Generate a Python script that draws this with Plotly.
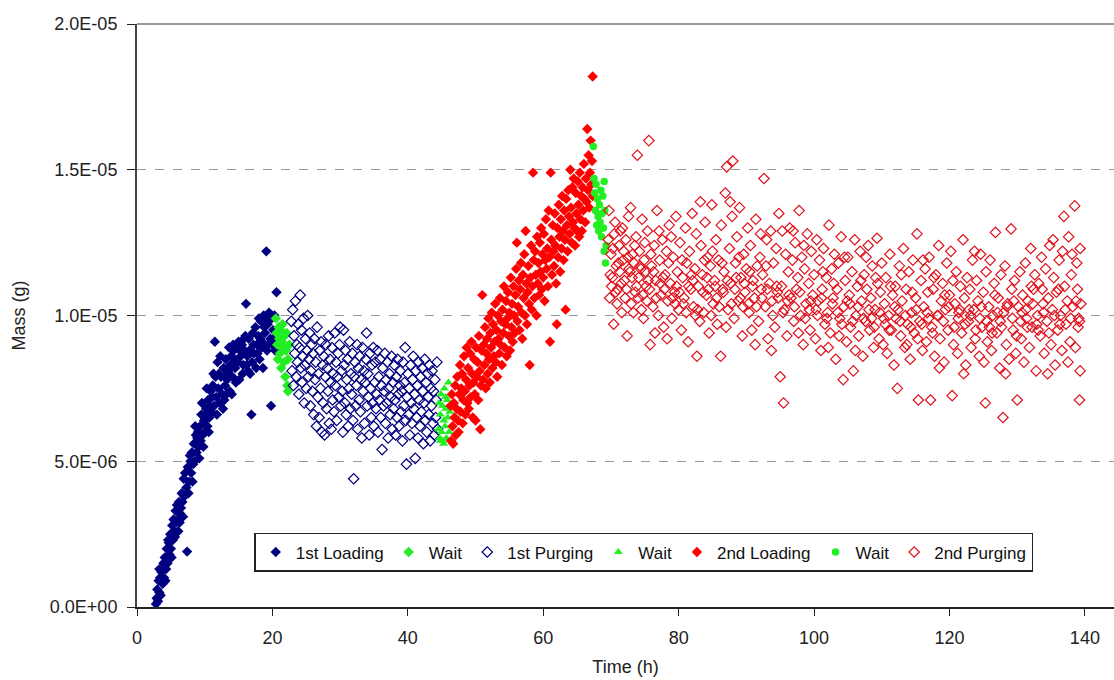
import plotly.graph_objects as go

# ---- data (time in h, mass in 1e-6 g) ----
loading1 = [(2.8,0.1),(2.9,0.3),(3.0,0.6),(3.1,0.2),(3.2,0.9),(3.3,0.5),(3.4,1.0),(3.5,0.4),(3.6,1.2),(3.8,0.8),(3.9,1.5),(4.0,1.0),(4.1,1.7),(4.3,1.3),(4.4,2.0),(4.5,1.5),(4.6,2.3),(4.8,1.8),(4.9,2.5),(5.0,2.0),(5.2,2.8),(5.3,2.3),(5.4,3.0),(5.5,2.6),(5.7,3.3),(5.8,2.9),(5.9,3.5),(6.0,3.0),(6.2,3.6),(6.3,2.9),(6.4,3.2),(6.6,3.9),(6.7,3.6),(6.9,4.4),(7.0,3.8),(7.1,4.6),(7.3,4.1),(7.4,1.9),(7.5,4.8),(7.7,4.3),(7.8,5.2),(8.0,4.6),(8.1,5.3),(8.3,4.9),(8.4,5.6),(8.5,5.0),(8.7,5.9),(8.8,5.3),(9.0,6.0),(9.1,5.5),(9.3,6.2),(9.4,5.7),(9.6,7.0),(9.7,5.9),(9.9,6.4),(10.0,6.0),(10.2,6.8),(10.4,6.2),(10.5,7.1),(10.7,6.5),(10.9,7.4),(11.0,6.7),(11.2,7.6),(11.4,6.9),(11.5,9.1),(11.7,7.2),(11.9,8.4),(12.0,7.5),(12.2,7.0),(12.4,7.9),(12.6,7.3),(12.8,8.2),(13.0,7.6),(13.1,8.5),(13.3,7.8),(13.5,8.1),(13.7,7.4),(13.9,8.6),(14.1,7.9),(14.3,8.8),(14.5,8.2),(14.7,8.9),(14.9,8.4),(15.1,7.8),(15.3,8.6),(15.5,9.0),(15.7,8.3),(15.9,8.8),(16.1,10.4),(16.3,8.6),(16.5,9.2),(16.7,8.0),(16.9,6.6),(17.1,9.4),(17.3,8.7),(17.5,9.6),(17.7,9.0),(17.9,9.3),(18.1,8.5),(18.3,9.8),(18.5,9.1),(18.7,10.0),(18.9,9.4),(19.1,12.2),(19.3,9.7),(19.5,10.1),(19.7,9.2),(19.8,6.9),(19.9,9.9),(20.1,9.5),(20.3,10.0),(20.6,10.8),(20.4,8.8),
            (12.1,8.0),(12.9,7.1),(13.6,8.9),(14.0,7.3),(14.4,8.5),(15.0,9.1),(15.6,8.0),(16.0,9.3),(16.4,8.1),(17.0,8.4),(17.6,8.2),(18.0,9.9),(18.4,8.9),(18.8,9.6),(19.2,8.8),(19.6,10.0),(20.0,9.0),(10.1,6.6),(10.6,6.0),(11.1,7.2),(8.9,5.8),(7.9,5.0),(6.5,3.4),(5.6,2.4),(4.7,2.2),(3.7,0.9),(9.5,6.6),(11.3,8.0),(11.8,6.6),(13.4,8.0),
            (3.3,1.3),(4.2,0.9),(5.1,1.7),(6.1,2.6),(6.8,3.1),(7.6,3.9),(8.2,4.3),(8.6,6.2),(9.2,5.1),(9.8,5.5),(10.3,7.5),(10.8,6.9),(11.6,7.9),(12.3,8.6),(12.7,6.8),(13.2,7.3),(13.8,8.3),(14.2,9.0),(14.6,7.7),(15.2,8.8),(15.8,9.2),(16.2,8.3),(16.6,8.8),(17.2,9.0),(17.8,8.7),(18.2,9.2),(18.6,8.2),(19.0,9.9),(19.4,9.0),(20.2,9.2)]

wait1 = [(20.5,9.9),(20.6,9.4),(20.7,9.0),(20.8,8.5),(20.9,9.6),(21.0,9.2),(21.1,8.7),(21.2,9.5),(21.3,8.2),(21.4,9.1),(21.5,9.7),(21.6,8.9),(21.7,8.4),(21.8,9.3),(21.9,7.9),(22.0,8.8),(22.1,9.4),(22.2,7.6),(22.3,8.5),(22.5,9.0),(22.3,7.4)]

purging1 = [(22.8,9.8),(22.9,8.1),(23.0,10.2),(23.1,7.6),(23.2,9.3),(23.3,8.7),(23.4,10.5),(23.5,7.9),(23.6,9.0),(23.7,8.4),(23.8,9.7),(23.9,7.3),(24.0,8.9),(24.1,10.7),(24.2,8.2),(24.3,9.5),(24.4,7.7),(24.5,8.6),(24.6,9.9),(24.7,7.0),(24.8,8.3),(24.9,9.2),(25.0,7.5),(25.1,8.8),(25.2,10.0),(25.3,7.9),(25.4,8.5),(25.5,9.4),(25.6,6.9),(25.7,8.1),(25.8,9.0),(25.9,7.4),(26.0,8.7),
            (26.1,6.6),(26.2,9.2),(26.3,7.8),(26.4,8.4),(26.5,6.2),(26.6,9.6),(26.7,7.2),(26.8,8.0),(26.9,6.5),(27.0,8.8),(27.1,7.5),(27.2,9.1),(27.3,6.0),(27.4,8.3),(27.5,7.0),(27.6,8.6),(27.7,5.9),(27.8,7.9),(27.9,9.0),(28.0,6.8),(28.1,8.2),(28.2,7.4),(28.3,9.3),(28.4,6.3),(28.5,8.5),(28.6,7.7),(28.7,6.1),(28.8,8.9),(28.9,7.1),(29.0,8.0),(29.1,6.7),(29.2,9.4),(29.3,7.6),(29.4,8.4),(29.5,6.4),(29.6,7.9),(29.7,8.7),(29.8,7.2),(29.9,9.0),(30.0,9.6),(30.1,6.9),(30.2,8.1),(30.3,7.4),(30.5,9.5),(30.4,6.0),
            (30.6,8.3),(30.7,7.0),(30.8,8.8),(30.9,6.6),(31.0,7.8),(31.1,8.5),(31.2,6.2),(31.3,7.5),(31.4,9.1),(31.5,6.8),(31.6,8.0),(31.7,7.3),(31.8,8.7),(31.9,6.4),(32.0,4.4),(32.1,7.9),(32.2,8.4),(32.3,6.9),(32.4,7.6),(32.5,9.0),(32.6,6.1),(32.7,8.2),(32.8,7.1),(32.9,8.6),(33.0,6.7),(33.1,7.8),(33.2,5.8),(33.3,8.9),(33.4,7.4),(33.5,8.1),(33.6,6.3),(33.7,7.7),(33.8,8.5),(33.9,9.4),(34.0,6.9),(34.1,8.0),(34.2,7.2),(34.3,5.9),(34.4,8.7),(34.5,7.5),(34.6,6.5),(34.7,8.3),(34.8,7.0),(34.9,8.9),
            (35.0,6.2),(35.1,7.7),(35.2,8.4),(35.3,6.8),(35.4,7.3),(35.5,8.8),(35.6,6.0),(35.7,7.9),(35.8,7.1),(35.9,8.5),(36.0,6.5),(36.1,7.6),(36.2,5.4),(36.3,8.2),(36.4,6.9),(36.5,7.4),(36.6,8.7),(36.7,6.3),(36.8,7.8),(36.9,7.0),(37.0,8.4),(37.1,5.8),(37.2,7.5),(37.3,8.0),(37.4,6.6),(37.5,7.2),(37.6,8.6),(37.7,6.1),(37.8,7.7),(37.9,6.8),(38.0,8.3),(38.1,7.1),(38.2,5.9),(38.3,7.9),(38.4,6.5),(38.5,8.5),(38.6,7.3),(38.7,6.2),(38.8,7.6),(38.9,8.1),(39.0,6.7),(39.1,7.4),(39.2,5.7),(39.3,8.4),(39.4,6.9),(39.5,7.7),(39.6,8.9),(39.7,6.4),(39.8,4.9),(39.9,7.2),
            (40.0,8.0),(40.1,6.6),(40.2,7.5),(40.3,5.9),(40.4,8.3),(40.5,7.0),(40.6,6.3),(40.7,7.8),(40.8,8.6),(40.9,6.8),(41.0,7.3),(41.1,5.1),(41.2,8.1),(41.3,6.5),(41.4,7.6),(41.5,5.8),(41.6,8.4),(41.7,7.1),(41.8,6.2),(41.9,7.9),(42.0,6.7),(42.1,8.2),(42.2,7.4),(42.3,5.6),(42.4,7.0),(42.5,8.5),(42.6,6.4),(42.7,7.7),(42.8,6.0),(42.9,8.0),(43.0,7.2),(43.1,6.6),(43.2,8.3),(43.3,5.7),(43.4,7.5),(43.5,6.9),(43.6,8.1),(43.7,6.3),(43.8,7.4),(43.9,5.9),(44.0,7.8),(44.1,6.5),(44.2,7.1),(44.3,8.4),(44.4,6.1)]

wait2 = [(44.5,6.1),(44.6,7.0),(44.7,5.8),(44.8,6.6),(44.9,7.3),(45.0,6.0),(45.1,6.9),(45.2,5.7),(45.3,6.4),(45.4,7.5),(45.5,6.2),(45.6,6.8),(45.7,5.8),(45.8,7.1),(45.9,6.5),(46.0,7.7),(46.1,6.0),(46.2,6.7),(45.3,5.6),(44.8,5.7),(45.6,7.2)]

loading2 = [(46.3,6.9),(46.4,5.7),(46.5,7.3),(46.6,6.2),(46.7,5.6),(46.8,7.0),(46.9,6.5),(47.0,7.6),(47.1,5.9),(47.2,6.8),(47.3,7.9),(47.4,6.4),(47.5,6.0),(47.6,7.3),(47.7,8.3),(47.8,6.7),(47.9,7.5),(48.0,8.0),(48.1,6.3),(48.2,7.1),(48.3,8.6),(48.4,7.4),(48.5,6.6),(48.6,7.8),(48.7,8.9),(48.8,7.0),(48.9,8.2),(49.0,6.8),(49.1,7.6),(49.2,8.7),(49.3,7.2),(49.4,9.1),(49.5,8.0),(49.6,6.5),(49.7,7.7),(49.8,8.5),(49.9,7.3),(50.0,6.4),(50.1,8.9),(50.2,7.9),(50.3,8.4),(50.4,7.1),(50.5,9.3),(50.6,8.1),(50.7,6.1),(50.8,7.6),(50.9,8.8),(51.0,10.7),(51.1,7.8),(51.2,9.0),(51.3,8.3),(51.4,9.6),(51.5,7.5),(51.6,8.7),(51.7,9.2),(51.8,8.0),(51.9,9.9),(52.0,8.5),(52.1,7.7),(52.2,9.4),(52.3,8.9),(52.4,10.1),(52.5,8.2),(52.6,9.7),(52.7,8.6),(52.8,9.1),(52.9,10.4),(53.0,8.4),(53.1,9.5),(53.2,7.9),(53.3,10.0),(53.4,9.2),(53.5,8.7),(53.6,10.6),(53.7,9.0),(53.8,9.8),(53.9,8.3),(54.0,10.2),(54.1,9.4),(54.2,11.0),(54.3,8.9),(54.4,9.7),(54.5,10.5),(54.6,8.6),(54.7,9.9),(54.8,10.8),(54.9,9.3),(55.0,10.1),(55.1,8.8),(55.2,11.3),(55.3,9.6),(55.4,10.4),(55.5,9.1),(55.6,11.0),(55.7,10.0),(55.8,9.4),(55.9,10.7),(56.0,11.6),(56.1,12.5),(56.2,9.8),(56.3,10.3),(56.4,11.2),(56.5,9.5),(56.6,10.9),(56.7,11.8),(56.8,10.1),(56.9,9.2),(57.0,11.4),(57.1,10.6),(57.2,12.1),(57.3,10.0),(57.4,12.9),(57.5,11.1),(57.6,9.7),(57.7,10.8),(57.8,11.7),(57.9,10.4),(58.0,8.3),(58.1,11.3),(58.2,12.4),(58.3,10.2),(58.4,11.0),(58.5,14.9),(58.6,11.9),(58.7,10.6),(58.8,12.2),(58.9,11.4),(59.0,10.0),(59.1,12.7),(59.2,11.1),(59.3,11.8),(59.4,10.7),(59.5,12.5),(59.6,11.5),(59.7,13.0),(59.8,10.9),(59.9,12.1),(60.0,11.3),(60.1,12.8),(60.2,10.5),(60.3,11.9),(60.4,13.3),(60.5,11.6),(60.6,12.3),(60.7,11.0),(60.8,13.6),(60.9,12.0),(61.0,9.1),(61.1,14.9),(61.2,12.6),(61.3,11.4),(61.4,13.1),(61.5,12.2),(61.6,11.7),(61.7,13.5),(61.8,12.4),(61.9,11.1),(62.0,9.7),(62.1,13.0),(62.2,12.0),(62.3,13.8),(62.4,12.7),(62.5,11.5),(62.6,13.3),(62.7,12.3),(62.8,14.1),(62.9,12.9),(63.0,11.9),(63.1,13.6),(63.2,12.6),(63.3,10.2),(63.4,14.0),(63.5,13.1),(63.6,12.2),(63.7,14.3),(63.8,13.4),(63.9,12.8),(64.0,15.0),(64.1,13.7),(64.2,12.5),(64.3,14.4),(64.4,13.2),(64.5,14.7),(64.6,13.0),(64.7,12.4),(64.8,14.2),(64.9,13.5),(65.0,12.9),(65.1,14.6),(65.2,13.8),(65.3,12.7),(65.4,14.9),(65.5,13.3),(65.6,14.1),(65.7,12.9),(65.8,14.4),(65.9,13.6),(66.0,15.2),(66.1,14.0),(66.2,13.2),(66.3,14.7),(66.4,13.9),(66.5,16.4),(66.6,14.3),(66.7,15.5),(66.8,13.7),(66.9,14.9),(67.0,16.0),(67.1,14.5),(67.2,15.3),(67.3,18.2),(67.3,14.1)]

wait3 = [(67.4,15.8),(67.5,14.7),(67.6,14.2),(67.7,13.6),(67.8,14.5),(67.9,13.1),(68.0,14.0),(68.1,13.4),(68.2,12.9),(68.3,13.8),(68.4,13.2),(68.5,14.3),(68.6,12.7),(68.7,13.5),(68.8,14.1),(68.9,13.0),(69.0,12.2),(69.1,13.6),(69.2,11.8),(69.3,12.4),(69.0,14.6)]

purging2 = [(69.6,12.6),(69.8,10.6),(70.0,12.1),(70.2,11.3),(70.4,9.7),(70.6,13.2),(70.8,11.7),(71.0,10.9),(71.2,12.4),(71.4,12.9),(71.6,10.1),(71.8,11.9),(72.0,11.2),(72.2,12.6),(72.4,9.3),(72.6,13.4),(72.8,11.5),(73.0,10.4),(73.2,12.1),(73.4,11.8),(73.6,10.8),(73.9,15.5),(74.0,10.6),(74.2,12.2),(74.4,11.6),(74.6,13.3),(74.8,9.9),(75.0,12.5),
            (69.7,13.6),(70.1,11.0),(70.5,12.8),(70.9,10.4),(71.3,11.5),(71.7,13.0),(72.1,10.6),(72.5,12.0),(72.9,13.7),(73.3,10.1),(73.7,12.7),(74.1,11.3),(74.5,10.2),(74.9,11.9),
            (75.2,11.0),(75.4,12.9),(75.6,16.0),(75.8,9.0),(76.0,11.7),(76.2,10.3),(76.4,12.4),(76.6,11.2),(76.8,13.6),(77.0,10.0),(77.2,11.9),(77.4,10.7),(77.6,12.6),(77.8,9.6),(78.0,11.4),(78.2,12.2),(78.4,10.5),(78.6,13.1),(78.8,11.1),(79.0,9.9),(79.2,12.0),(79.4,10.8),(79.6,13.4),(79.8,11.5),(80.0,10.2),
            (75.3,10.5),(75.9,12.1),(76.5,9.4),(77.1,12.9),(77.7,11.3),(78.3,9.2),(78.9,12.7),(79.5,10.4),
            (80.2,12.5),(80.4,9.5),(80.6,11.3),(80.8,10.6),(81.0,13.0),(81.2,11.8),(81.4,9.1),(81.6,12.2),(81.8,10.9),(82.0,13.5),(82.2,10.3),(82.4,11.6),(82.6,12.8),(82.7,8.6),(82.9,11.0),(83.1,9.8),(83.3,12.4),(83.5,11.4),(83.7,10.1),(83.9,13.2),(84.1,10.7),(84.3,12.0),(84.5,9.4),(84.7,11.7),(84.9,13.8),(85.1,10.4),(85.3,11.2),(85.5,12.6),(85.7,9.7),(85.9,11.9),(86.2,8.6),(86.3,13.1),(86.5,10.9),(86.7,11.5),(86.9,14.2),(87.1,15.1),(87.3,10.2),(87.5,12.3),(87.7,11.1),(87.9,13.4),(88.0,15.3),(88.2,9.9),(88.4,11.8),(88.6,12.7),(88.8,10.5),(89.0,13.7),(89.2,11.3),(89.4,9.3),(89.6,12.1),(89.8,10.8),(90.0,11.6),
            (80.5,11.9),(81.1,10.1),(81.9,11.4),(82.5,10.0),(83.2,13.9),(83.8,11.9),(84.4,10.9),(85.0,12.2),(85.6,10.6),(86.4,11.8),(87.0,9.6),(87.6,13.9),(88.3,10.9),(88.9,12.0),(89.5,10.3),
            (90.2,13.0),(90.4,10.1),(90.6,12.4),(90.8,9.5),(91.0,11.2),(91.2,10.6),(91.4,13.3),(91.6,11.7),(91.8,9.8),(92.0,12.0),(92.2,10.9),(92.4,11.4),(92.6,14.7),(92.8,10.3),(93.0,12.6),(93.2,9.2),(93.4,11.1),(93.6,12.9),(93.8,10.5),(94.0,11.8),(94.2,9.6),(94.4,12.3),(94.6,10.8),(94.8,13.5),(95.0,7.9),(95.2,11.0),(95.5,7.0),(95.6,10.2),(95.8,12.1),(96.0,9.3),(96.2,11.5),(96.4,13.0),(96.6,10.6),(96.8,11.9),(97.0,9.8),(97.2,12.5),(97.4,10.9),(97.6,11.3),(97.8,13.6),(98.0,10.0),(98.2,12.0),(98.4,9.0),(98.6,11.6),(98.8,10.4),(99.0,12.8),(99.2,11.1),(99.4,9.5),(99.6,12.2),(99.8,10.7),(100.0,11.4),
            (90.5,11.5),(91.3,9.0),(92.1,12.8),(92.9,11.7),(93.7,8.8),(94.5,11.0),(95.3,12.9),(96.1,10.5),(96.9,12.9),(97.7,9.4),(98.5,12.4),(99.3,10.2),
            (100.2,9.2),(100.4,12.6),(100.6,10.5),(100.8,11.9),(101.0,8.8),(101.2,10.9),(101.4,12.3),(101.6,9.7),(101.8,11.3),(102.0,10.1),(102.2,13.1),(102.4,9.4),(102.6,11.6),(102.8,10.6),(103.0,12.1),(103.2,8.5),(103.4,10.9),(103.6,11.8),(103.8,9.9),(104.0,12.7),(104.3,7.8),(104.4,10.3),(104.6,11.2),(104.8,9.1),(105.0,12.0),(105.2,10.7),(105.4,9.6),(105.6,11.5),(105.8,8.1),(106.0,12.6),(106.2,10.0),(106.4,11.0),(106.6,9.3),(106.8,12.2),(107.0,10.5),(107.2,8.6),(107.4,11.4),(107.6,9.8),(107.8,10.9),(108.0,12.4),(108.2,9.5),(108.4,10.6),(108.6,11.7),(108.8,8.9),(109.0,10.2),(109.3,12.65),(109.4,11.1),(109.6,9.2),(109.8,10.8),(110.0,11.8),
            (100.5,10.0),(101.3,11.5),(102.1,8.9),(102.9,11.1),(103.7,9.3),(104.5,12.0),(105.3,10.4),(106.1,8.8),(106.9,11.2),(107.7,12.0),(108.5,9.9),(109.1,11.3),
            (110.2,9.0),(110.4,10.4),(110.6,11.3),(110.8,8.7),(111.0,10.0),(111.2,12.1),(111.4,9.5),(111.6,10.7),(111.8,8.3),(112.0,11.0),(112.3,7.5),(112.4,10.2),(112.6,11.7),(112.8,9.3),(113.0,10.5),(113.2,12.3),(113.4,8.9),(113.6,10.9),(113.8,9.7),(114.0,11.5),(114.2,8.5),(114.4,10.1),(114.6,11.9),(114.8,9.4),(115.0,10.6),(115.2,12.8),(115.4,7.1),(115.6,9.8),(115.8,11.2),(116.0,8.8),(116.2,10.3),(116.4,11.6),(116.6,9.1),(116.8,10.8),(117.0,12.0),(117.2,7.1),(117.4,9.6),(117.6,10.9),(117.8,8.6),(118.0,11.4),(118.2,10.0),(118.4,12.4),(118.6,9.2),(118.8,10.5),(119.0,11.1),(119.2,8.4),(119.4,10.2),(119.6,11.8),(119.8,9.5),(120.0,10.7),
            (110.5,9.7),(111.3,11.0),(112.1,9.9),(112.9,11.4),(113.7,9.0),(114.5,10.8),(115.3,9.2),(116.1,11.9),(116.9,9.9),(117.7,11.3),(118.5,8.2),(119.3,10.7),
            (120.2,12.2),(120.4,7.25),(120.6,9.0),(120.8,10.4),(121.0,11.5),(121.2,8.7),(121.4,10.1),(121.6,11.0),(121.8,9.4),(122.0,12.6),(122.2,10.6),(122.4,8.3),(122.6,11.3),(122.8,9.8),(123.0,10.9),(123.2,8.9),(123.4,11.9),(123.6,10.2),(123.8,9.2),(124.0,11.2),(124.2,10.5),(124.4,8.6),(124.6,12.1),(124.8,9.6),(125.0,10.8),(125.3,7.0),(125.4,11.5),(125.6,9.1),(125.8,10.3),(126.0,11.9),(126.2,8.8),(126.4,10.0),(126.6,11.1),(126.8,12.85),(127.0,9.4),(127.2,10.6),(127.4,8.2),(127.6,11.4),(127.9,6.5),(128.0,10.1),(128.2,11.7),(128.4,9.0),(128.6,10.4),(128.8,8.5),(129.1,12.97),(129.2,10.9),(129.4,9.5),(129.6,11.2),(129.8,8.7),(130.0,7.1),
            (120.5,11.2),(121.3,9.9),(122.1,8.0),(122.9,10.2),(123.7,12.2),(124.5,9.9),(125.1,8.4),(125.9,9.6),(126.7,10.7),(127.5,9.8),(128.3,8.0),(129.5,10.5),
            (130.2,10.3),(130.4,11.5),(130.6,9.2),(130.8,10.7),(131.0,8.4),(131.2,11.8),(131.4,9.9),(131.6,10.5),(131.8,8.9),(132.0,12.3),(132.2,9.6),(132.4,10.9),(132.6,11.4),(132.8,8.1),(133.0,10.0),(133.2,11.1),(133.4,9.3),(133.6,12.0),(133.8,10.4),(134.0,8.7),(134.2,11.6),(134.4,9.8),(134.6,10.6),(134.8,12.4),(135.0,9.0),(135.2,10.2),(135.4,11.3),(135.6,8.3),(135.8,10.8),(136.0,9.5),(136.2,11.9),(136.4,10.0),(136.6,8.8),(136.9,13.4),(137.0,11.0),(137.2,9.7),(137.4,10.5),(137.6,12.7),(137.8,9.1),(138.0,11.4),(138.2,10.3),(138.5,13.76),(138.6,8.9),(138.8,11.8),(139.0,9.6),(139.2,7.1),(139.3,8.1),(139.4,10.4),(139.3,12.3),(139.1,9.9),
            (130.5,9.8),(131.3,10.2),(132.1,11.0),(132.9,9.7),(133.7,10.9),(134.5,8.0),(135.3,12.6),(136.1,10.9),(136.7,12.2),(137.5,8.4),(138.1,12.1),(138.9,10.9),
            (69.9,11.4),(70.3,12.3),(70.7,10.8),(71.1,11.8),(71.5,11.1),(71.9,12.2),(72.3,10.9),(72.7,11.6),(73.1,11.3),(73.5,12.4),(73.8,11.0),(74.3,11.7),(74.7,10.7),(75.1,11.5),(75.5,11.2),(75.7,10.9),(76.3,11.5),(76.7,10.6),(77.3,11.1),(77.9,10.9),(78.5,11.8),(79.1,10.6),(79.7,11.0),(80.1,10.8),(80.7,10.4),(81.5,11.0),(82.1,11.2),(82.8,10.2),(83.6,10.8),(84.2,11.3),(84.8,10.0),(85.4,11.0),(86.0,10.3),(86.6,10.8),(87.2,11.2),(87.8,10.4),(88.5,11.3),(89.1,10.6),(89.7,11.1),(90.3,10.4),(90.9,11.0),(91.5,10.3),(92.3,10.6),(93.1,10.9),(93.9,10.0),(94.7,10.6),(95.4,10.1),(96.3,10.7),(97.1,10.3),(97.9,10.8),(98.7,9.9),(99.5,10.5),(100.3,10.2),(101.1,10.6),(101.9,9.9),(102.7,10.4),(103.5,10.1),(104.1,9.7),(104.9,10.5),(105.7,9.8),(106.5,10.3),(107.3,9.9),(108.1,10.2),(108.9,9.6),(109.7,10.1),(110.3,9.9),(111.1,9.5),(111.9,10.3),(112.7,9.8),(113.5,10.0),(114.3,9.6),(115.1,10.2),(115.9,9.7),(116.7,10.1),(117.5,9.4),(118.3,10.0),(119.1,9.8),(119.9,10.3),(120.7,9.6),(121.5,10.2),(122.3,9.7),(123.1,10.0),(123.9,9.5),(124.7,10.3),(125.5,9.8),(126.3,9.4),(127.1,10.1),(127.7,9.6),(128.5,10.3),(129.3,9.9),(129.9,9.3),(130.7,10.1),(131.5,9.6),(132.3,10.4),(133.1,9.5),(133.9,10.1),(134.7,9.4),(135.5,10.0),(136.3,9.7),(137.1,10.2),(137.9,9.9),(138.7,10.5),(139.2,9.8)]

y_tick_vals = [0, 5e-6, 1e-5, 1.5e-5, 2e-5]
y_tick_text = ["0.0E+00", "5.0E-06", "1.0E-05", "1.5E-05", "2.0E-05"]
x_tick_vals = [0, 20, 40, 60, 80, 100, 120, 140]

NAVY = "#000080"
GREEN = "#22EE22"
RED = "#FF0000"
PURGE_RED = "#E0101A"


def split(pairs):
    xs = [p[0] for p in pairs]
    ys = [p[1] * 1e-6 for p in pairs]
    return xs, ys


series = [
    ("1st Loading", loading1, dict(symbol="diamond", size=8, color=NAVY)),
    ("Wait", wait1, dict(symbol="diamond", size=8, color=GREEN)),
    ("1st Purging", purging1, dict(symbol="diamond-open", size=8, color=NAVY, line=dict(width=1.2, color=NAVY))),
    ("Wait", wait2, dict(symbol="triangle-up", size=8, color=GREEN)),
    ("2nd Loading", loading2, dict(symbol="diamond", size=8, color=RED)),
    ("Wait", wait3, dict(symbol="circle", size=7.5, color=GREEN)),
    ("2nd Purging", purging2, dict(symbol="diamond-open", size=8, color=PURGE_RED, line=dict(width=1.2, color=PURGE_RED))),
]

fig = go.Figure()
for name, pairs, marker in series:
    xs, ys = split(pairs)
    fig.add_trace(go.Scatter(x=xs, y=ys, mode="markers", name=name, marker=marker, cliponaxis=False))

FONT = "Liberation Sans, Arial, sans-serif"

fig.update_layout(
    width=1114, height=680,
    margin=dict(l=137, r=0, t=24, b=73),
    paper_bgcolor="white", plot_bgcolor="white",
    font=dict(family=FONT, size=18, color="#222222"),
    showlegend=True,
    legend=dict(
        orientation="h", x=0.12, y=0.127, xanchor="left", yanchor="top",
        bgcolor="white", bordercolor="#222222", borderwidth=1.5,
        font=dict(family=FONT, size=17, color="#111111"),
        itemsizing="trace", tracegroupgap=0, itemwidth=30,
    ),
    xaxis=dict(
        range=[0, 144.3], tickvals=x_tick_vals, ticks="outside", ticklen=7,
        tickcolor="#222222", showline=True, linecolor="#222222", linewidth=2,
        showgrid=False, zeroline=False, ticklabelstandoff=6,
        title=dict(text="Time (h)", font=dict(family=FONT, size=18), standoff=14),
        tickfont=dict(family=FONT, size=18),
    ),
    yaxis=dict(
        range=[0, 2e-5], tickvals=y_tick_vals, ticktext=y_tick_text,
        ticks="outside", ticklen=8, tickcolor="#222222",
        showline=True, linecolor="#444444", linewidth=2,
        showgrid=True, gridcolor="#999999", griddash="dash", gridwidth=1,
        zeroline=False, ticklabelstandoff=6,
        title=dict(text="Mass (g)", font=dict(family=FONT, size=18), standoff=20),
        tickfont=dict(family=FONT, size=18),
    ),
    shapes=[dict(type="line", xref="paper", yref="paper", x0=0, x1=1, y0=1, y1=1,
                 line=dict(color="#999999", width=2))],
)

fig.write_html("out.html")
